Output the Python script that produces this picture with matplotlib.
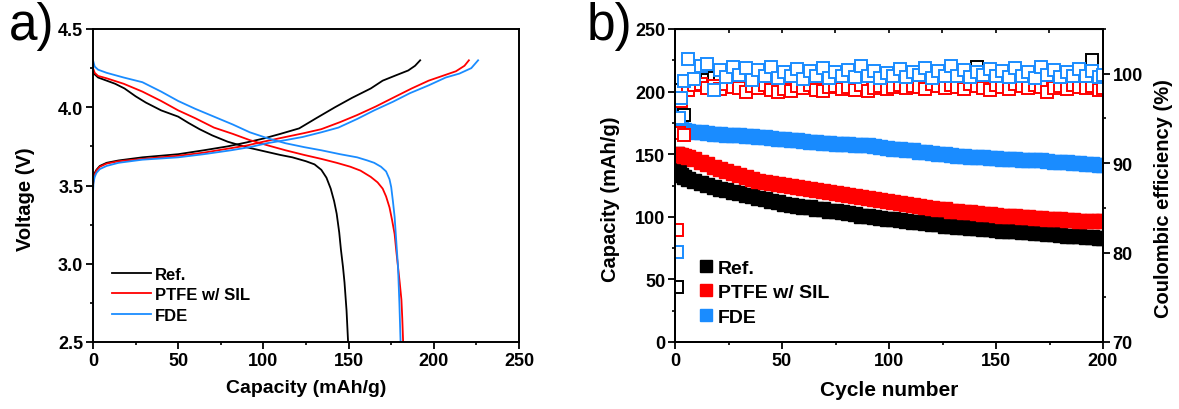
import numpy as np
import matplotlib.pyplot as plt
from matplotlib.ticker import MultipleLocator, FormatStrFormatter

plt.rcParams['font.family'] = ['Liberation Sans', 'DejaVu Sans']
plt.rcParams['font.weight'] = 'bold'

# ~~~~~~~~~~~
# a) voltage profiles (charge rises to 4.3 V, discharge falls to 2.5 V)
ref_chg_x = [0, 0, 0.3, 1, 2, 4, 8, 15, 29, 50, 65, 79, 90, 100, 110, 121, 131, 142, 152,
             163, 170, 178, 185, 189, 192]
ref_chg_v = [3.30, 3.50, 3.54, 3.58, 3.60, 3.625, 3.645, 3.66, 3.68, 3.70, 3.725, 3.75, 3.775,
             3.80, 3.83, 3.865, 3.93, 4.00, 4.06, 4.12, 4.17, 4.205, 4.235, 4.265, 4.30]
ref_dis_x = [0, 1, 3, 8, 13, 18.5, 25, 31, 40, 50, 56, 62.5, 70, 79, 90, 100, 110, 117, 125,
             130, 134, 137, 139.5, 141.5, 143, 144.5, 145.5, 146.7, 147.6, 148.8, 149.7]
ref_dis_v = [4.23, 4.21, 4.19, 4.17, 4.15, 4.12, 4.07, 4.03, 3.98, 3.94, 3.90, 3.86, 3.82, 3.78,
             3.745, 3.72, 3.695, 3.68, 3.655, 3.635, 3.60, 3.55, 3.48, 3.40, 3.32, 3.20, 3.09,
             2.98, 2.88, 2.70, 2.50]

ptfe_chg_x = [0, 0, 0.3, 1, 2, 4, 8, 15, 29, 50, 65, 79, 90, 100, 113, 124, 134, 145, 155,
              166, 176, 187, 197, 205, 213, 218, 220.6]
ptfe_chg_v = [2.65, 3.50, 3.54, 3.57, 3.595, 3.62, 3.64, 3.655, 3.67, 3.69, 3.71, 3.735, 3.755,
              3.78, 3.81, 3.835, 3.86, 3.905, 3.95, 4.005, 4.06, 4.12, 4.17, 4.20, 4.23, 4.265,
              4.30]
ptfe_dis_x = [0, 1, 3, 8, 18, 29, 40, 50, 60, 71, 82, 92, 103, 113, 124, 134, 143, 151, 157,
              163, 167, 170, 172, 174, 175.5, 177, 178, 179, 180, 181, 181.5, 182]
ptfe_dis_v = [4.25, 4.22, 4.20, 4.185, 4.15, 4.10, 4.04, 3.98, 3.93, 3.87, 3.83, 3.79, 3.755,
              3.725, 3.695, 3.67, 3.645, 3.62, 3.595, 3.555, 3.52, 3.48, 3.43, 3.36, 3.28, 3.19,
              3.08, 2.98, 2.88, 2.77, 2.65, 2.50]

fde_chg_x = [0, 0, 0.3, 1, 2, 4, 8, 15, 29, 50, 65, 81, 92, 102, 113, 123, 134, 144, 155,
             165, 176, 186, 197, 207, 215, 222, 226]
fde_chg_v = [2.50, 3.45, 3.52, 3.555, 3.58, 3.605, 3.625, 3.645, 3.665, 3.68, 3.70, 3.725,
             3.745, 3.77, 3.79, 3.81, 3.84, 3.87, 3.925, 3.98, 4.035, 4.09, 4.14, 4.19, 4.215,
             4.25, 4.30]
fde_dis_x = [0, 1, 3, 8, 18, 29, 40, 50, 60, 71, 82, 92, 103, 113, 124, 134, 145, 155, 161,
             165, 169, 172, 174, 175, 176, 177, 178, 179, 179.8, 180.5]
fde_dis_v = [4.30, 4.26, 4.24, 4.22, 4.19, 4.16, 4.10, 4.04, 3.99, 3.94, 3.89, 3.84, 3.80,
             3.77, 3.745, 3.725, 3.70, 3.68, 3.66, 3.645, 3.62, 3.59, 3.54, 3.49, 3.40, 3.30,
             3.14, 2.98, 2.75, 2.50]

# ~~~~~~~~~~~
# b) cycling: capacity (left axis) and coulombic efficiency (right axis)
cycles = [1, 2, 3, 4] + list(range(6, 199, 3)) + [200]

ref_cap = [150, 145, 133, 132,
           130.5, 128.5, 127, 125.5, 124, 122.5, 121.5, 120, 119,
           117.5, 116.5, 115, 114, 113, 111.5, 110.5, 109.5, 109, 108,
           107.5, 106.5, 106, 105, 104.5, 103.5, 103, 102, 101, 100.5,
           100, 99, 98.5, 98, 97.5, 97, 96, 95.5, 95, 94.5,
           94, 93, 92.5, 92, 91.5, 91, 91, 90.5, 90, 89.5,
           89, 89, 88.5, 88, 87.5, 87, 87, 86.5, 86, 85.5,
           85, 85, 84.5, 84, 83.5, 83,
           83]
ptfe_cap = [150, 149, 149, 148.5,
            147.5, 146, 144, 142, 140, 138.5, 136.5, 135, 133.5,
            131.5, 130, 128.5, 127.5, 127, 126, 125.5, 124.5, 124, 123,
            122, 121.5, 120.5, 120, 119, 118, 117.5, 116.5, 116, 115,
            114, 113.5, 112.5, 112, 111, 110, 109.5, 108.5, 108, 107,
            106.5, 106, 105, 104.5, 104, 103.5, 103, 102.5, 102, 101.5,
            101, 101, 100.5, 100, 99.5, 99, 99, 98.5, 98, 98,
            97.5, 97.5, 97, 97, 96.5, 96.5,
            96.5]
fde_cap = [188, 184, 170, 169,
           168.5, 168, 167.5, 167, 166.5, 166, 165.5, 165.5, 165,
           164.5, 164.5, 164, 163.5, 163, 162.5, 162, 161.5, 161, 160.5,
           160, 159.5, 159, 159, 158.5, 158, 158, 157.5, 157, 157,
           156.5, 156, 155, 154.5, 154, 153.5, 153, 152, 151.5, 151,
           150.5, 150, 149, 148.5, 148.5, 148, 148, 147.5, 147, 147,
           146.5, 146, 146, 145.5, 145.5, 145, 145, 144.5, 144, 144,
           143.5, 143, 143, 142.5, 142, 141.5,
           141]

ref_ce = [76.2, 97.0, 98.2, 95.4,
          99.1, 99.4, 99.6, 99.3, 99.5, 99.2, 99.6, 99.4, 99.3,
          99.5, 99.7, 99.2, 99.4, 99.6, 99.3, 99.5, 99.2, 99.4, 99.6,
          99.3, 99.5, 99.4, 99.2, 99.6, 99.4, 99.3, 99.5, 99.7, 99.2,
          99.4, 99.6, 99.3, 99.5, 99.4, 99.2, 99.6, 99.4, 99.3, 99.5,
          99.2, 99.6, 99.4, 99.3, 99.5, 99.4, 100.7, 99.3, 99.5, 99.4,
          99.6, 99.2, 99.5, 99.4, 99.3, 99.6, 99.4, 99.2, 99.5, 99.4,
          99.6, 99.3, 99.5, 99.4, 101.5, 98.3,
          99.2]
ptfe_ce = [82.5, 93.4, 97.0, 93.2,
           98.2, 98.7, 98.9, 98.4, 98.6, 98.3, 98.8, 98.5, 98.4,
           97.9, 98.6, 98.4, 98.7, 98.2, 97.9, 98.3, 98.1, 98.6, 98.4,
           98.7, 98.2, 98.1, 98.5, 98.6, 98.3, 98.5, 98.2, 98.7, 98.1,
           98.4, 98.6, 98.3, 98.5, 98.7, 98.4, 98.6, 98.5, 98.3, 98.8,
           98.6, 98.4, 98.7, 98.5, 98.3, 98.8, 98.6, 98.4, 98.2, 98.7,
           98.5, 98.3, 98.8, 98.6, 98.4, 98.7, 98.5, 97.9, 98.4, 98.6,
           98.3, 98.7, 98.5, 98.4, 98.6, 98.2,
           98.4]
fde_ce = [80.1, 95.0, 97.3, 99.2,
          101.7, 99.4, 100.9, 101.1, 98.2, 100.4, 99.6, 100.8, 99.9,
          100.6, 99.3, 100.4, 99.8, 100.7, 99.5, 100.2, 99.7, 100.5, 99.4,
          100.3, 99.8, 100.6, 99.5, 100.2, 99.7, 100.4, 99.6, 100.9, 99.8,
          100.3, 99.5, 100.1, 99.8, 100.5, 99.6, 100.2, 99.9, 100.6, 99.5,
          100.3, 99.7, 100.9, 99.8, 100.4, 99.6, 100.2, 99.9, 100.5, 99.7,
          100.3, 99.6, 100.6, 99.8, 100.2, 99.5, 100.7, 99.9, 100.4, 99.6,
          100.2, 99.8, 100.5, 99.7, 100.3, 99.6,
          99.9]

labels = ['Ref.', 'PTFE w/ SIL', 'FDE']
colors = ['black', '#ff0000', '#1a8cff']

W, H = 1179, 410
fig = plt.figure(figsize=(W / 100, H / 100), dpi=100)
ax1 = fig.add_axes([93 / W, 67 / H, 426 / W, 313 / H])
ax2 = fig.add_axes([675 / W, 67 / H, 428 / W, 313 / H])
ax3 = ax2.twinx()

for ax in (ax1, ax2, ax3):
    for s in ax.spines.values():
        s.set_linewidth(1.4)
    ax.tick_params(which='major', direction='out', length=5, width=1.3, labelsize=13, pad=2)
    ax.tick_params(which='minor', direction='out', length=2.5, width=1.2)

# ---- panel a
curves = [(ref_chg_x, ref_chg_v, ref_dis_x, ref_dis_v),
          (ptfe_chg_x, ptfe_chg_v, ptfe_dis_x, ptfe_dis_v),
          (fde_chg_x, fde_chg_v, fde_dis_x, fde_dis_v)]
for (cx, cv, dx, dv), c, lab in zip(curves, colors, labels):
    ax1.plot(cx, cv, color=c, lw=1.3, label=lab)
    ax1.plot(dx, dv, color=c, lw=1.3)

ax1.set_xlim(0, 250)
ax1.set_ylim(2.5, 4.5)
ax1.xaxis.set_major_locator(MultipleLocator(50))
ax1.xaxis.set_minor_locator(MultipleLocator(25))
ax1.yaxis.set_major_locator(MultipleLocator(0.5))
ax1.yaxis.set_minor_locator(MultipleLocator(0.25))
ax1.yaxis.set_major_formatter(FormatStrFormatter('%.1f'))
ax1.set_xlabel('Capacity (mAh/g)', fontsize=14, fontweight='bold')
ax1.set_ylabel('Voltage (V)', fontsize=14.5, fontweight='bold')
ax1.xaxis.set_label_coords(0.5, -0.118)
ax1.yaxis.set_label_coords(-0.135, 0.46)
ax1.legend(loc='upper left', bbox_to_anchor=(0.045, 0.24), frameon=False, fontsize=12,
           handlelength=2.3, handletextpad=0.25, labelspacing=0.32, borderaxespad=0, borderpad=0)

# ---- panel b
for y, c, lab in zip([ref_cap, ptfe_cap, fde_cap], colors, labels):
    ax2.plot(cycles, y, 's', color=c, ms=9.5, mec=c, label=lab)

for y, c in zip([ref_ce, ptfe_ce, fde_ce], colors):
    ax3.plot(cycles, y, 's', ms=9, mfc='white', mec=c, mew=1.4)

ax2.set_xlim(0, 200)
ax2.set_ylim(0, 250)
ax3.set_ylim(70, 105)
ax2.xaxis.set_major_locator(MultipleLocator(50))
ax2.xaxis.set_minor_locator(MultipleLocator(25))
ax2.yaxis.set_major_locator(MultipleLocator(50))
ax2.yaxis.set_minor_locator(MultipleLocator(25))
ax3.yaxis.set_major_locator(MultipleLocator(10))
ax3.yaxis.set_minor_locator(MultipleLocator(5))

top = ax2.secondary_xaxis('top')
top.xaxis.set_major_locator(MultipleLocator(25))
top.tick_params(direction='in', length=3, width=1.2, labeltop=False)

ax2.set_xlabel('Cycle number', fontsize=15, fontweight='bold')
ax2.set_ylabel('Capacity (mAh/g)', fontsize=14.5, fontweight='bold')
ax3.set_ylabel('Coulombic efficiency (%)', fontsize=14.5, fontweight='bold')
ax2.xaxis.set_label_coords(0.5, -0.122)
ax2.yaxis.set_label_coords(-0.128, 0.46)
ax3.yaxis.set_label_coords(1.12, 0.46)
ax2.legend(loc='upper left', bbox_to_anchor=(0.055, 0.265), frameon=False, fontsize=14,
           handlelength=0.8, handletextpad=0.2, labelspacing=0.36, borderaxespad=0, borderpad=0,
           markerscale=0.95)

fig.text(9 / W, 1 - 2 / H, 'a)', fontsize=37, fontweight='normal', va='top', ha='left')
fig.text(587 / W, 1 - 2 / H, 'b)', fontsize=37, fontweight='normal', va='top', ha='left')

fig.savefig('out.png', dpi=100)
